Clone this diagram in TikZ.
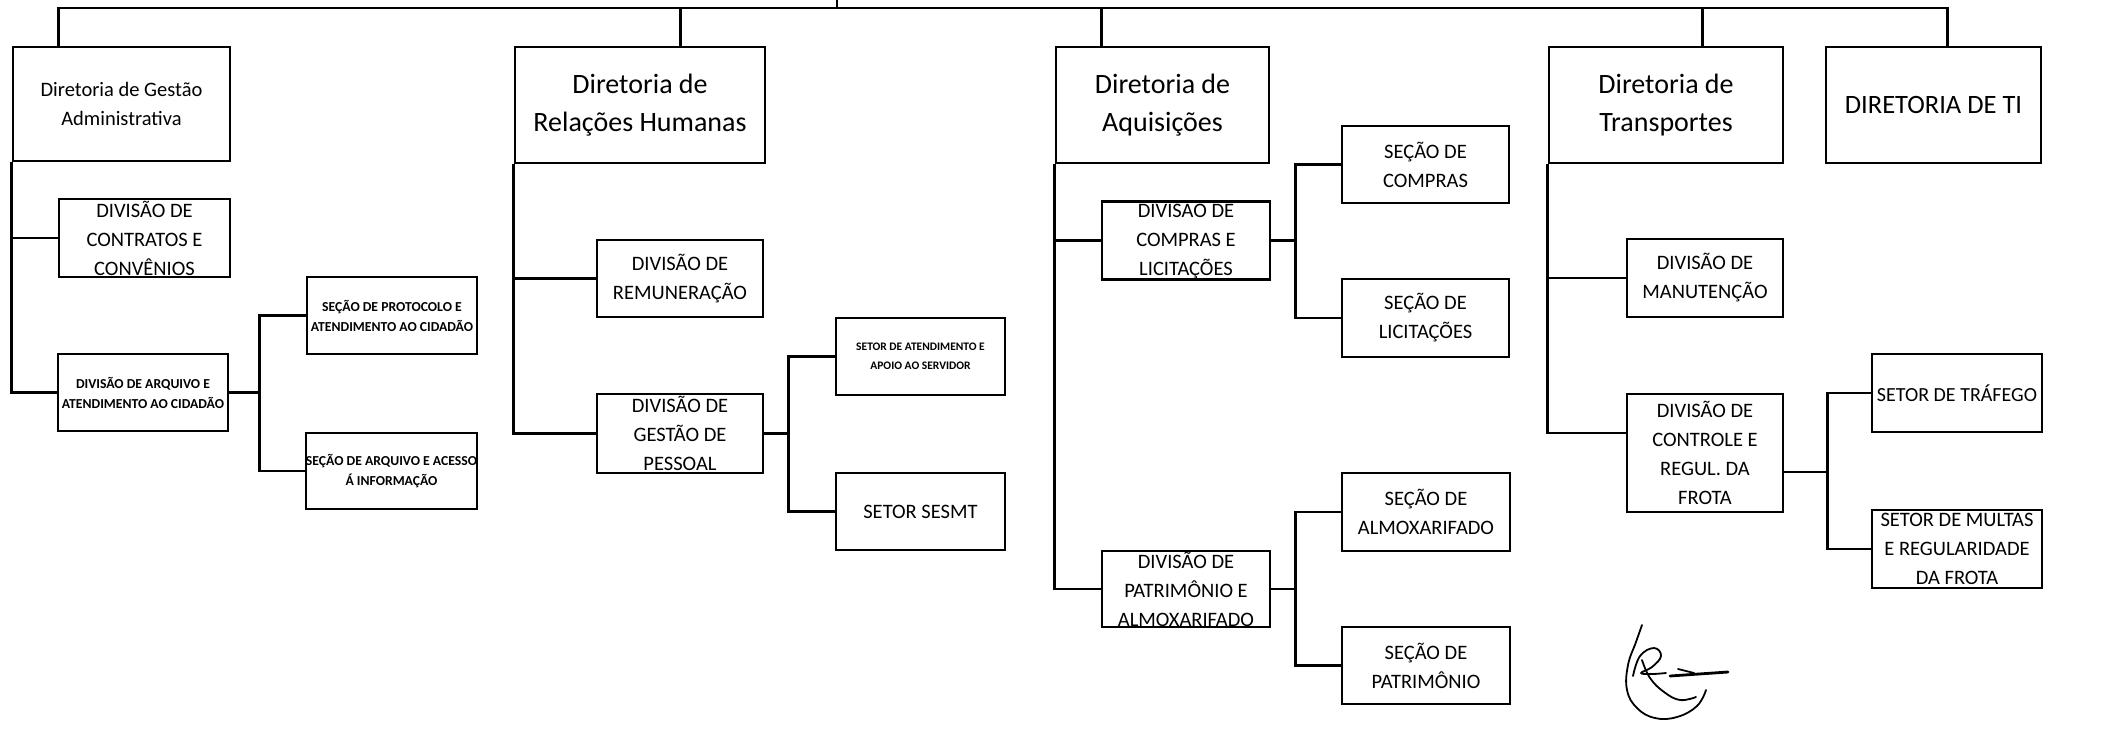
\documentclass[tikz,border=0pt]{standalone}
\usepackage{fontspec}
\setmainfont{Carlito}
\usetikzlibrary{calc}

\begin{document}
\begin{tikzpicture}[x=1pt,y=-1pt,
  line join=miter,
  unit/.style={draw=black, line width=2.6pt, inner sep=0pt, align=center, text=black},
  big/.style={unit, font=\fontsize{28}{38}\selectfont},
  mid/.style={unit, font=\fontsize{20.5}{29}\selectfont},
  small/.style={unit, font=\bfseries\fontsize{13.7}{20}\selectfont},
  tiny/.style={unit, font=\bfseries\fontsize{11.5}{19}\selectfont},
  link/.style={draw=black, line width=2.6pt}]

\useasboundingbox (0,0) rectangle (2115,729);

% box helper: corners (x1,y1) (x2,y2) in pixel units
\newcommand{\unitbox}[7]{%
  \node[#1, minimum width={#5-#3}, minimum height={#6-#4}] (#2)
    at ({(#3+#5)/2},{(#4+#6)/2}) {#7};}

% directorates
\unitbox{mid}{dga}{13}{47}{230}{161}{\fontsize{20.5}{27}\selectfont Diretoria de Gestão\\Administrativa}
\unitbox{big}{drh}{515}{47}{765}{163}{Diretoria de\\Relações Humanas}
\unitbox{big}{daq}{1056}{47}{1269}{163}{Diretoria de\\Aquisições}
\unitbox{big}{dt}{1549}{47}{1783}{163}{Diretoria de\\Transportes}
\unitbox{big}{dti}{1826}{47}{2041}{163}{\fontsize{26.5}{38}\selectfont DIRETORIA DE TI}

% Gestão Administrativa
\unitbox{mid}{dcc}{59}{199}{230}{277}{DIVISÃO DE\\CONTRATOS E\\CONVÊNIOS}
\unitbox{small}{daac}{58}{354}{228}{431}{DIVISÃO DE ARQUIVO E\\ATENDIMENTO AO CIDADÃO}
\unitbox{small}{spac}{307}{277}{477}{354}{SEÇÃO DE PROTOCOLO E\\ATENDIMENTO AO CIDADÃO}
\unitbox{small}{saai}{306}{433}{477}{509}{SEÇÃO DE ARQUIVO E ACESSO\\Á INFORMAÇÃO}

% Relações Humanas
\unitbox{mid}{drem}{597}{240}{763}{317}{DIVISÃO DE\\REMUNERAÇÃO}
\unitbox{mid}{dgp}{597}{394}{763}{473}{DIVISÃO DE\\GESTÃO DE\\PESSOAL}
\unitbox{tiny}{saas}{836}{318}{1005}{395}{SETOR DE ATENDIMENTO E\\APOIO AO SERVIDOR}
\unitbox{mid}{sesmt}{836}{473}{1005}{550}{SETOR SESMT}

% Aquisições
\unitbox{mid}{dcl}{1102}{202}{1270}{279}{DIVISÃO DE\\COMPRAS E\\LICITAÇÕES}
\unitbox{mid}{sc}{1342}{126}{1509}{203}{SEÇÃO DE\\COMPRAS}
\unitbox{mid}{sl}{1342}{279}{1509}{357}{SEÇÃO DE\\LICITAÇÕES}
\unitbox{mid}{dpa}{1102}{551}{1270}{627}{DIVISÃO DE\\PATRIMÔNIO E\\ALMOXARIFADO}
\unitbox{mid}{salm}{1342}{473}{1510}{551}{SEÇÃO DE\\ALMOXARIFADO}
\unitbox{mid}{spat}{1342}{627}{1510}{704}{SEÇÃO DE\\PATRIMÔNIO}

% Transportes
\unitbox{mid}{dm}{1627}{239}{1783}{317}{DIVISÃO DE\\MANUTENÇÃO}
\unitbox{mid}{dcrf}{1627}{394}{1783}{512}{\fontsize{20.5}{31.5}\selectfont DIVISÃO DE\\CONTROLE E\\REGUL. DA\\FROTA}
\unitbox{mid}{st}{1872}{354}{2042}{432}{\fontsize{20}{29}\selectfont SETOR DE TRÁFEGO}
\unitbox{mid}{smrf}{1872}{510}{2042}{588}{SETOR DE MULTAS\\E REGULARIDADE\\DA FROTA}

% top bus
\coordinate (top) at (837,0);
\coordinate (hub) at (837,8);
\draw[link] (hub) -- (top);
\draw[link] ($(dga.north west)+(47,0)$) |- (hub);
\draw[link] ($(drh.north west)+(167,0)$) |- (hub);
\draw[link] ($(daq.north west)+(47,0)$) |- (hub);
\draw[link] ($(dt.north west)+(155,0)$) |- (hub);
\draw[link] ($(dti.north west)+(123,0)$) |- (hub);

% Gestão Administrativa branches
\draw[link] (dga.south west) |- (dcc.west);
\draw[link] (dga.south west) |- (daac.west);
\draw[link] (daac.east) -- ++(30,0) |- (spac.west);
\draw[link] (daac.east) -- ++(30,0) |- (saai.west);

% Relações Humanas branches
\draw[link] (drh.south west) |- (drem.west);
\draw[link] (drh.south west) |- (dgp.west);
\draw[link] (dgp.east) -- ++(24,0) |- (saas.west);
\draw[link] (dgp.east) -- ++(24,0) |- (sesmt.west);

% Aquisições branches
\draw[link] (daq.south west) |- (dcl.west);
\draw[link] (daq.south west) |- (dpa.west);
\draw[link] (dcl.east) -- ++(24,0) |- (sc.west);
\draw[link] (dcl.east) -- ++(24,0) |- (sl.west);
\draw[link] (dpa.east) -- ++(24,0) |- (salm.west);
\draw[link] (dpa.east) -- ++(24,0) |- (spat.west);

% Transportes branches
\draw[link] (dt.south west) |- (dm.west);
\draw[link] (dt.south west) |- ($(dcrf.west)+(0,-20)$);
\draw[link] ($(dcrf.east)+(0,19)$) -- ++(43,0) |- (st.west);
\draw[link] ($(dcrf.east)+(0,19)$) -- ++(43,0) |- (smrf.west);

% handwritten rubric
\begin{scope}[line width=1.8pt, line cap=round, line join=round]
  \draw plot[smooth, tension=0.7] coordinates {(1642,625) (1636,642) (1628,665) (1627,690) (1637,708) (1655,718) (1677,717) (1697,706) (1706,690)};
  \draw plot[smooth, tension=0.7] coordinates {(1633,676) (1640,656) (1654,648) (1661,656) (1652,667) (1641,673) (1652,674) (1666,673)};
  \draw plot[smooth, tension=0.7] coordinates {(1642,660) (1650,678) (1664,692) (1680,700) (1696,697)};
  \draw[line width=2.8pt] (1670,676) -- (1728,672);
  \draw (1678,669) -- (1694,673);
\end{scope}
\end{tikzpicture}
\end{document}
